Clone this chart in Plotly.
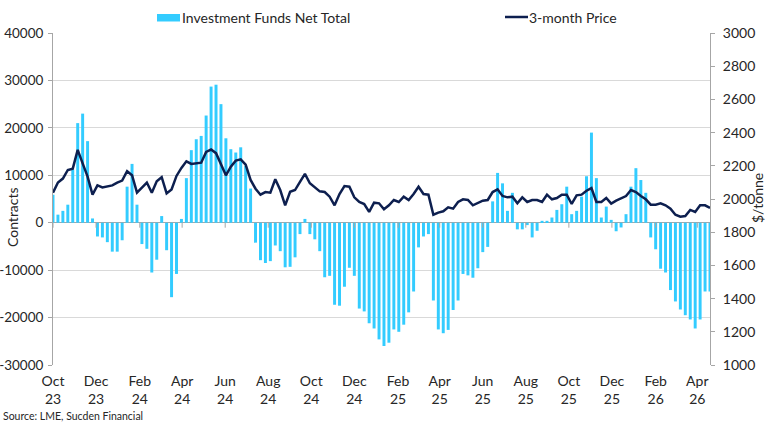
import pandas as pd
import plotly.graph_objects as go

# ---- data ----
start_date = "2023-10-01"
net_total = [
    5900, 1700, 2500, 3800, 11200, 21000, 23000, 17200, 900, -2900,
    -3100, -4100, -6100, -6100, -3700, 7600, 12400, 3800, -4500, -5500,
    -10500, -7800, 1400, -5800, -15700, -10800, 800, 9400, 15300, 17600,
    18300, 22600, 28700, 29100, 25000, 17800, 15500, 14800, 15900, 12000,
    7200, -4200, -7900, -8500, -8100, -4800, -6000, -9400, -9300, -7300,
    -2400, 800, -2400, -3500, -6000, -11500, -11200, -17300, -17500, -13500,
    -9500, -11200, -18100, -18700, -21200, -22300, -24600, -26000, -25300, -22500,
    -23000, -21500, -18900, -14500, -5200, -2900, -2400, -16400, -22500, -23300,
    -22600, -18400, -16400, -10800, -11100, -11600, -9600, -6200, -5100, 4500,
    10500, 8300, 2500, 6300, -1400, -1400, -500, -3100, -1700, 400,
    400, 1100, 2700, 3900, 7600, 1800, 2500, 5500, 9800, 19000,
    9400, 1100, 3400, 600, -1800, -1000, 1800, 7600, 11500, 9000,
    6300, -3100, -5600, -9700, -10500, -14200, -16600, -18300, -19500, -20400,
    -22300, -20400, -14500, -14500,
]
price_3m = [
    2038, 2099, 2123, 2175, 2183, 2296, 2215, 2135, 2026, 2082,
    2070, 2074, 2082, 2099, 2111, 2167, 2143, 2038, 2070, 2099,
    2038, 2107, 2131, 2034, 2058, 2139, 2187, 2227, 2211, 2215,
    2219, 2284, 2298, 2276, 2211, 2143, 2195, 2231, 2239, 2207,
    2115, 2062, 2026, 2042, 2038, 2119, 2054, 1962, 2044, 2054,
    2103, 2151, 2095, 2070, 2046, 2042, 2014, 1962, 2030, 2078,
    2074, 2010, 1982, 1970, 1922, 1978, 1974, 1938, 1962, 1994,
    1982, 2014, 1994, 2030, 2074, 2030, 2026, 1905, 1918, 1926,
    1950, 1942, 1982, 1998, 1994, 1962, 1978, 1990, 1994, 2042,
    2058, 2018, 2010, 2014, 1974, 2010, 1982, 1994, 1994, 1982,
    2026, 1998, 2006, 2026, 2026, 1970, 2022, 2026, 2050, 2066,
    1982, 1982, 2006, 1972, 1990, 2002, 2018, 2054, 2042, 2018,
    1998, 1966, 1966, 1974, 1962, 1942, 1905, 1893, 1897, 1934,
    1922, 1962, 1962, 1946,
]
x_tick_dates = [
    "2023-10-01", "2023-12-01", "2024-02-01", "2024-04-01", "2024-06-01",
    "2024-08-01", "2024-10-01", "2024-12-01", "2025-02-01", "2025-04-01",
    "2025-06-01", "2025-08-01", "2025-10-01", "2025-12-01", "2026-02-01",
    "2026-04-01",
]
x_tick_labels = [
    "Oct<br>23", "Dec<br>23", "Feb<br>24", "Apr<br>24", "Jun<br>24",
    "Aug<br>24", "Oct<br>24", "Dec<br>24", "Feb<br>25", "Apr<br>25",
    "Jun<br>25", "Aug<br>25", "Oct<br>25", "Dec<br>25", "Feb<br>26",
    "Apr<br>26",
]
left_ticks = [-30000, -20000, -10000, 0, 10000, 20000, 30000, 40000]
left_tick_labels = ["-30000", "-20000", "-10000", "0", "10000", "20000", "30000", "40000"]
series_names = ["Investment Funds Net Total", "3-month Price"]

dates = pd.date_range(start_date, periods=len(net_total), freq="7D")

FONT = "Lato"
FS = 14
TXT = "#262626"
AX = "#a6a6a6"
GRID = "#d9d9d9"
BAR_C = "#33CCFF"
LINE_C = "#0D1F4F"

fig = go.Figure()
fig.add_trace(go.Bar(
    x=dates, y=net_total, name=series_names[0],
    marker=dict(color=BAR_C, line=dict(width=0)),
    yaxis="y", showlegend=False,
))
fig.add_trace(go.Scatter(
    x=dates, y=price_3m, name=series_names[1], mode="lines",
    line=dict(color=LINE_C, width=2.5),
    yaxis="y2", showlegend=False,
))

PW, PH = 657, 332
L, T = 53, 33


def px_x(p):
    return (p - L) / PW


def px_y(p):
    return (T + PH - p) / PH


shapes = []
for d in x_tick_dates:
    shapes.append(dict(
        type="line", xref="x", yref="y", x0=d, x1=d,
        ysizemode="pixel", yanchor=0, y0=0, y1=-5,
        line=dict(color=AX, width=1),
    ))
# legend keys
shapes.append(dict(type="rect", xref="paper", yref="paper",
                   x0=px_x(157), x1=px_x(180), y0=px_y(21.5), y1=px_y(14),
                   fillcolor=BAR_C, line=dict(width=0)))
shapes.append(dict(type="line", xref="paper", yref="paper",
                   x0=px_x(505), x1=px_x(528), y0=px_y(17), y1=px_y(17),
                   line=dict(color=LINE_C, width=2.5)))

fig.update_layout(
    width=770, height=424,
    margin=dict(l=53, r=60, t=33, b=59, autoexpand=False),
    paper_bgcolor="white", plot_bgcolor="white",
    font=dict(family=FONT, size=FS, color=TXT),
    bargap=0.4,
    showlegend=False,
    xaxis=dict(
        type="date", automargin=False,
        range=[dates[0], dates[-1]],
        tickvals=x_tick_dates, ticktext=x_tick_labels,
        showgrid=False, showline=False, ticks="",
        zeroline=False, ticklabelstandoff=6,
        tickfont=dict(family=FONT, size=FS, color=TXT),
    ),
    yaxis=dict(
        range=[-30000, 40000], automargin=False,
        tickvals=left_ticks, ticktext=left_tick_labels,
        showgrid=True, gridcolor=GRID, gridwidth=1,
        zeroline=True, zerolinecolor=AX, zerolinewidth=1,
        showline=True, linecolor=AX, linewidth=1,
        ticks="outside", ticklen=4, tickcolor=AX,
        ticklabelstandoff=2,
        tickfont=dict(family=FONT, size=13.5, color=TXT),
    ),
    yaxis2=dict(
        range=[1000, 3000], dtick=200, tick0=1000, automargin=False,
        overlaying="y", side="right",
        showgrid=False, zeroline=False,
        showline=True, linecolor=AX, linewidth=1,
        ticks="outside", ticklen=4, tickcolor=AX,
        ticklabelstandoff=5,
        tickfont=dict(family=FONT, size=FS, color=TXT),
    ),
    shapes=shapes,
    annotations=[
        dict(text=series_names[0], xref="paper", yref="paper",
             x=px_x(180), y=px_y(17), xanchor="left", yanchor="middle",
             showarrow=False, font=dict(family=FONT, size=FS, color=TXT)),
        dict(text=series_names[1], xref="paper", yref="paper",
             x=px_x(527), y=px_y(17), xanchor="left", yanchor="middle",
             showarrow=False, font=dict(family=FONT, size=FS, color=TXT)),
        dict(text="Contracts", xref="paper", yref="paper",
             x=px_x(12), y=px_y(217), xanchor="center", yanchor="middle",
             textangle=-90, showarrow=False, font=dict(family=FONT, size=FS, color=TXT)),
        dict(text="$/tonne", xref="paper", yref="paper",
             x=px_x(757), y=px_y(198), xanchor="center", yanchor="middle",
             textangle=-90, showarrow=False, font=dict(family=FONT, size=FS, color=TXT)),
        dict(text="Source: LME, Sucden Financial", xref="paper", yref="paper",
             x=px_x(1), xanchor="left", y=px_y(416), yanchor="middle",
             showarrow=False, font=dict(family=FONT, size=10.5, color=TXT)),
    ],
)

fig.write_html("out.html")
